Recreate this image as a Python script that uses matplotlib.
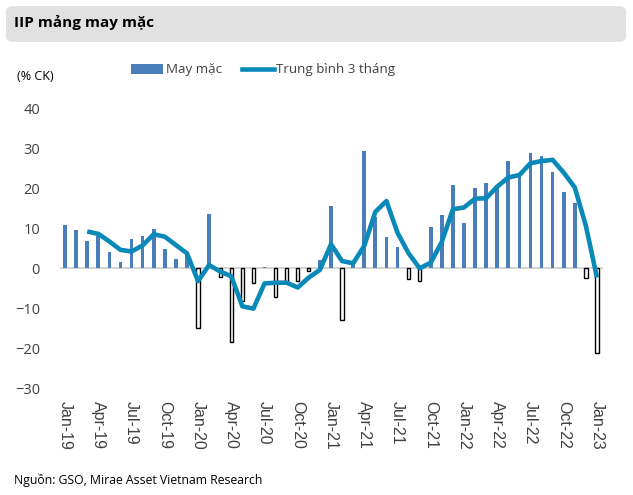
import matplotlib.pyplot as plt
from matplotlib.patches import FancyBboxPatch, Patch
from matplotlib.lines import Line2D

plt.rcParams['font.family'] = ['Open Sans', 'DejaVu Sans']

months = ['Jan-19', 'Feb-19', 'Mar-19', 'Apr-19', 'May-19', 'Jun-19', 'Jul-19', 'Aug-19', 'Sep-19', 'Oct-19', 'Nov-19', 'Dec-19',
          'Jan-20', 'Feb-20', 'Mar-20', 'Apr-20', 'May-20', 'Jun-20', 'Jul-20', 'Aug-20', 'Sep-20', 'Oct-20', 'Nov-20', 'Dec-20',
          'Jan-21', 'Feb-21', 'Mar-21', 'Apr-21', 'May-21', 'Jun-21', 'Jul-21', 'Aug-21', 'Sep-21', 'Oct-21', 'Nov-21', 'Dec-21',
          'Jan-22', 'Feb-22', 'Mar-22', 'Apr-22', 'May-22', 'Jun-22', 'Jul-22', 'Aug-22', 'Sep-22', 'Oct-22', 'Nov-22', 'Dec-22',
          'Jan-23']

may_mac = [10.8, 9.6, 6.9, 8.0, 4.0, 1.5, 7.3, 8.1, 9.8, 4.9, 2.3, 3.3,
           -15.0, 13.5, -2.1, -18.5, -8.2, -3.75, 0.4, -7.3, -3.4, -3.2, -0.7, 2.0,
           15.6, -12.9, 0.8, 29.2, 12.9, 7.9, 5.2, -2.75, -3.2, 10.2, 13.3, 20.7,
           11.25, 20.0, 21.4, 20.8, 26.7, 23.25, 28.75, 28.1, 24.1, 19.1, 16.25, -2.5,
           -21.1]

# 3-month average, starts at Mar-19
tb3 = [9.2, 8.6, 6.7, 4.6, 4.2, 5.7, 8.5, 7.9, 5.8, 3.75,
       -3.2, 0.8, -0.8, -2.0, -9.5, -10.1, -3.8, -3.6, -3.6, -4.8, -2.3, -0.4,
       6.0, 1.8, 1.25, 5.6, 14.1, 16.8, 8.9, 3.75, 0.0, 1.4, 6.6, 14.75,
       15.2, 17.4, 17.5, 20.4, 22.7, 23.3, 26.25, 26.8, 27.1, 23.9, 20.2, 10.6,
       -2.3]

blue = '#4a7ebb'
teal = '#0889b8'
grey_txt = '#404040'

fig = plt.figure(figsize=(6.33, 4.95), dpi=100)

# header box
fig.patches.append(FancyBboxPatch((6 / 633, 1 - 42 / 495), 620 / 633, 36 / 495,
                                  boxstyle='round,pad=0,rounding_size=0.012',
                                  transform=fig.transFigure, facecolor='#e1e1e1', edgecolor='none'))
fig.text(14 / 633, 1 - 23 / 495, 'IIP mảng may mặc', fontsize=11, fontweight='bold', va='center', ha='left', color='black')
fig.text(17 / 633, 1 - 76 / 495, '(% CK)', fontsize=9, va='center', ha='left', color='black')
fig.text(14 / 633, 1 - 480 / 495, 'Nguồn: GSO, Mirae Asset Vietnam Research', fontsize=8.8, va='center', ha='left', color='black')

ax = fig.add_axes([59.5 / 633, 0.2156, 543 / 633, 0.5657])

x = list(range(len(months)))
pos_x = [i for i, v in zip(x, may_mac) if v >= 0]
pos_v = [v for v in may_mac if v >= 0]
neg_x = [i for i, v in zip(x, may_mac) if v < 0]
neg_v = [v for v in may_mac if v < 0]

ax.axhline(0, color='#d0d0d0', lw=1.3, zorder=1)
ax.bar(pos_x, pos_v, width=0.33, color=blue, zorder=2)
ax.bar(neg_x, neg_v, width=0.3, facecolor='white', edgecolor='black', linewidth=1.0, zorder=2)
ax.plot(x[2:], tb3, color=teal, lw=3.3, solid_joinstyle='round', solid_capstyle='butt', zorder=3)

ax.set_xlim(-0.5, 48.5)
ax.set_ylim(-30, 40)
ax.set_yticks(range(-30, 41, 10))
ax.set_xticks(x[::3])
ax.set_xticklabels(months[::3], rotation=270, fontsize=11.5, color=grey_txt, family='Liberation Sans')
ax.tick_params(axis='y', length=0, pad=14, labelsize=10.5, labelcolor=grey_txt)
ax.tick_params(axis='x', length=0, pad=9)
for s in ax.spines.values():
    s.set_visible(False)

handles = [Patch(facecolor=blue, edgecolor='none'), Line2D([0], [0], color=teal, lw=3.3)]
fig.legend(handles, ['May mặc', 'Trung bình 3 tháng'], loc='center', bbox_to_anchor=(0.416, 1 - 70 / 495),
           ncol=2, frameon=False, fontsize=9.6, handlelength=2.4, handletextpad=0.2, columnspacing=1.5,
           labelcolor=grey_txt)

fig.savefig('out.png', dpi=100)
